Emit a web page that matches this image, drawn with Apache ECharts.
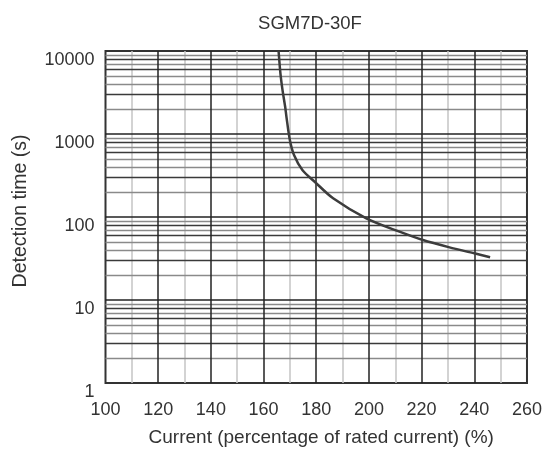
<!DOCTYPE html>
<html>
<head>
<meta charset="utf-8">
<script src="https://cdn.jsdelivr.net/npm/echarts@6/dist/echarts.min.js"></script>
<style>html,body{margin:0;padding:0;background:#fff;}#c{width:545px;height:454px;}</style>
</head>
<body>
<div id="c"></div>
<script>
const titleText = 'SGM7D-30F';
const xName = 'Current (percentage of rated current) (%)';
const yName = 'Detection time (s)';
const current = [165.7, 166.4, 167.2, 168.2, 168.7, 170.0, 171.6, 174.8, 179.4, 186.4, 199.0, 211.6, 220.5, 230.6, 240.0, 246.0];
const detectTime = [10000, 5380, 3380, 2130, 1600, 840, 553, 365, 266, 168, 96.4, 66.5, 52.8, 43.1, 36.5, 32.7];
const xMajor = [120, 140, 160, 180, 200, 220, 240];
const xMinor = [110, 130, 150, 170, 190, 210, 230, 250];
const yMajor = [10, 100, 1000];
const decades = [1, 10, 100, 1000];
const yMinorDark = [3, 6, 8];
const yMinorLight = [2, 4, 5, 7, 9];

const font = 'Liberation Sans, Arial, sans-serif';
const mk = (vals, key) => vals.map(v => ({ [key]: v }));
const expand = (mults) => decades.flatMap(d => mults.map(m => m * d));

function gridSeries(name, data, color, width, z) {
  return {
    name, type: 'line', data: [], z, silent: true,
    markLine: {
      silent: true, symbol: 'none', animation: false,
      label: { show: false },
      lineStyle: { color, width, type: 'solid' },
      emphasis: { disabled: true },
      data
    }
  };
}

const chart = echarts.init(document.getElementById('c'));
chart.setOption({
  animation: false,
  backgroundColor: '#fff',
  title: {
    text: titleText, left: 305, top: 9, textAlign: 'center',
    textStyle: { fontFamily: font, fontSize: 18.5, fontWeight: 'normal', color: '#333' }
  },
  grid: { left: 105.5, right: 17, top: 51, bottom: 71, show: true, borderColor: '#333', borderWidth: 2, backgroundColor: 'transparent' },
  xAxis: {
    type: 'value', min: 100, max: 260, interval: 20,
    name: xName, nameLocation: 'middle', nameGap: 45,
    nameTextStyle: { fontFamily: font, fontSize: 19, color: '#333', padding: [0, 0, 0, 10] },
    axisLine: { show: false }, axisTick: { show: false }, splitLine: { show: false },
    axisLabel: { fontFamily: font, fontSize: 18, color: '#333', margin: 18 }
  },
  yAxis: {
    type: 'log', logBase: 10, min: 1, max: 10000,
    name: yName, nameLocation: 'middle', nameGap: 75,
    nameTextStyle: { fontFamily: font, fontSize: 19.5, color: '#333', padding: [0, 0, 0, 12] },
    axisLine: { show: false }, axisTick: { show: false }, splitLine: { show: false },
    axisLabel: { fontFamily: font, fontSize: 18, color: '#333', margin: 11, verticalAlign: 'top', formatter: v => String(v) }
  },
  series: [
    gridSeries('xminor', mk(xMinor, 'xAxis'), '#c4c4c4', 1.5, 1),
    gridSeries('yminorL', mk(expand(yMinorLight), 'yAxis'), '#8a8a8a', 1.3, 1),
    gridSeries('yminorD', mk(expand(yMinorDark), 'yAxis'), '#3a3a3a', 1.3, 1),
    gridSeries('xmajor', mk(xMajor, 'xAxis'), '#222', 1.5, 1),
    gridSeries('ymajor', mk(yMajor, 'yAxis'), '#222', 1.5, 1),
    {
      name: 'curve', type: 'line', z: 5,
      data: current.map((c, i) => [c, detectTime[i]]),
      smooth: 0.3, showSymbol: false, symbol: 'none',
      lineStyle: { color: '#3c3c3c', width: 2.5 }
    }
  ]
});
</script>
</body>
</html>
